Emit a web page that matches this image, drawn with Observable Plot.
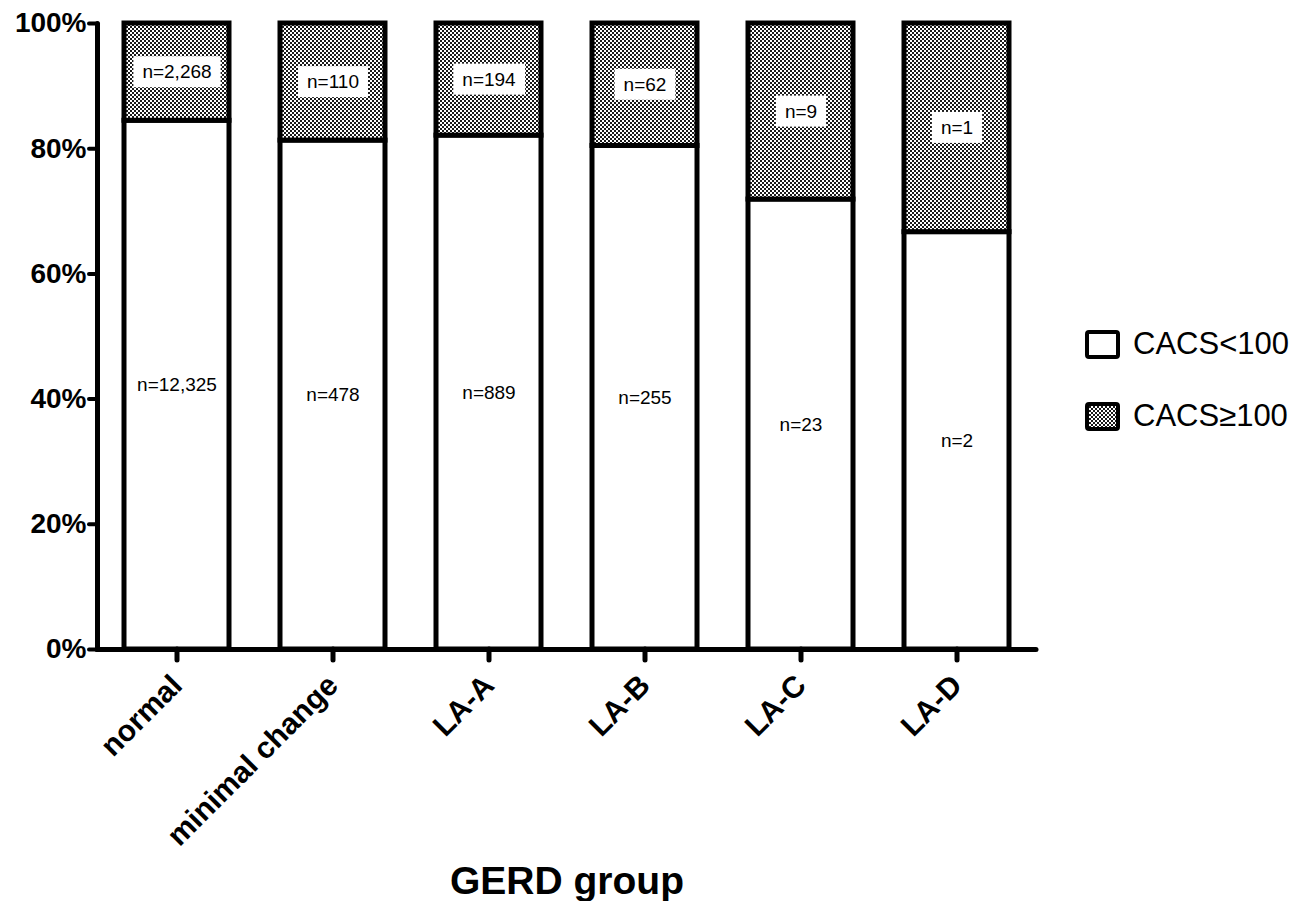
<!DOCTYPE html>
<html>
<head>
<meta charset="utf-8">
<script src="https://cdn.jsdelivr.net/npm/d3@7"></script>
<script src="https://cdn.jsdelivr.net/npm/@observablehq/plot@0.6"></script>
<style>
  html, body { margin: 0; padding: 0; background: #fff; }
  #wrap { position: relative; width: 1308px; height: 901px; font-family: "Liberation Sans", Arial, sans-serif; }
  g[aria-label="x-axis label"] { font-size: 39px; font-weight: bold; }
  .legend { position: absolute; left: 1085px; display: flex; align-items: center; font-size: 31px; color: #000; }
  .legend svg { margin-right: 13px; }
</style>
</head>
<body>
<div id="wrap"></div>
<script>
const groups = ["normal", "minimal change", "LA-A", "LA-B", "LA-C", "LA-D"];
const seriesNames = ["CACS<100", "CACS\u2265100"];
const below100 = [12325, 478, 889, 255, 23, 2];
const above100 = [2268, 110, 194, 62, 9, 1];
const yTicks = [0, 0.2, 0.4, 0.6, 0.8, 1];

const rows = [];
groups.forEach((g, i) => {
  rows.push({group: g, series: seriesNames[0], value: below100[i]});
  rows.push({group: g, series: seriesNames[1], value: above100[i]});
});
const fmt = d3.format(",");

const chart = Plot.plot({
  width: 1308,
  height: 901,
  marginLeft: 97,
  marginRight: 272,
  marginTop: 23,
  marginBottom: 252,
  style: {fontFamily: "Liberation Sans, Arial, sans-serif", color: "#000", background: "#fff"},
  x: {domain: groups, paddingInner: 0.33, paddingOuter: 0.165},
  y: {domain: [0, 1]},
  color: {domain: seriesNames, range: ["white", "url(#chk)"]},
  marks: [
    Plot.barY(rows, Plot.stackY({
      x: "group", y: "value", fill: "series", offset: "normalize",
      stroke: "black", strokeWidth: 5
    })),
    Plot.text(rows, Plot.stackY({
      x: "group", y: "value", offset: "normalize",
      text: d => d.series === seriesNames[0] ? "n=" + fmt(d.value) : "",
      fontSize: 19, fill: "black"
    })),
    Plot.text(rows, Plot.stackY({
      x: "group", y: "value", offset: "normalize",
      text: d => d.series === seriesNames[1] ? "n=" + fmt(d.value) : "",
      fontSize: 19, fill: "black"
    })),
    Plot.ruleY([0], {stroke: "black", strokeWidth: 5, strokeLinecap: "round"}),
    Plot.frame({anchor: "left", stroke: "black", strokeWidth: 5, strokeLinecap: "round"}),
    Plot.axisY({
      ticks: yTicks, tickFormat: d3.format(".0%"), tickSize: 8, tickPadding: 3,
      fontSize: 28, fontWeight: "bold", strokeWidth: 4, strokeLinecap: "round", label: null
    }),
    Plot.axisX({
      tickSize: 11, tickPadding: 20, tickRotate: -45, fontSize: 30, fontWeight: "bold",
      strokeWidth: 5, strokeLinecap: "round",
      label: "GERD group", labelAnchor: "center", labelOffset: 244, labelArrow: "none"
    })
  ]
});

document.getElementById("wrap").appendChild(chart);

// checker pattern definition
const svg = d3.select(chart);
const defs = svg.insert("defs", ":first-child");
const pat = defs.append("pattern").attr("id", "chk").attr("patternUnits", "userSpaceOnUse")
  .attr("width", 4).attr("height", 4);
pat.append("rect").attr("width", 4).attr("height", 4).attr("fill", "#fff");
pat.append("rect").attr("width", 2).attr("height", 2).attr("fill", "#1a1a1a");
pat.append("rect").attr("x", 2).attr("y", 2).attr("width", 2).attr("height", 2).attr("fill", "#1a1a1a");

// white boxes behind the labels of the upper segments (second text mark)
const textGroups = chart.querySelectorAll(':scope > g[aria-label="text"]');
const upperGroup = textGroups[1];
if (upperGroup) {
  Array.from(upperGroup.querySelectorAll("text")).forEach(t => {
    if (!t.textContent) return;
    const b = t.getBBox();
    const r = document.createElementNS("http://www.w3.org/2000/svg", "rect");
    r.setAttribute("x", b.x - 9);
    r.setAttribute("y", b.y - 5);
    r.setAttribute("width", b.width + 18);
    r.setAttribute("height", b.height + 10);
    r.setAttribute("fill", "white");
    r.setAttribute("stroke", "none");
    const tr = t.getAttribute("transform");
    if (tr) r.setAttribute("transform", tr);
    t.parentNode.insertBefore(r, t);
  });
}

// legend
const wrap = document.getElementById("wrap");
const legendTops = [326, 398];
seriesNames.forEach((name, i) => {
  const item = document.createElement("div");
  item.className = "legend";
  item.style.top = legendTops[i] + "px";
  const fill = i === 0 ? "#fff" : "url(#chk)";
  item.innerHTML = `<svg width="35" height="29"><rect x="2" y="2" width="31" height="25" rx="2" fill="${fill}" stroke="#000" stroke-width="4"/></svg><span>${name}</span>`;
  wrap.appendChild(item);
});
</script>
</body>
</html>
